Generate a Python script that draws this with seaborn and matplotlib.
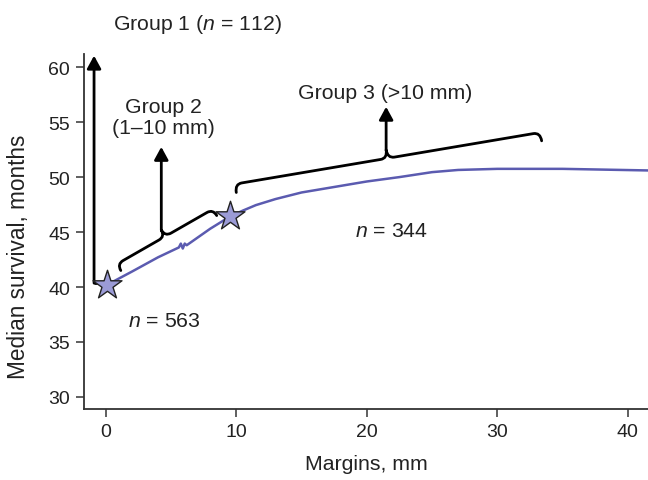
import numpy as np
import pandas as pd
import matplotlib
matplotlib.use("Agg")
import matplotlib.pyplot as plt
import seaborn as sns
from matplotlib.path import Path
from matplotlib.patches import PathPatch
from matplotlib.transforms import IdentityTransform

# ---- data ----
margin_mm = [0.1, 2, 4, 5.6, 5.75, 5.9, 6.05, 6.2, 8, 9.5, 10.5, 11.5, 13, 15, 17.5,
             20, 22.5, 25, 27, 30, 35, 41.8]
median_survival = [40.2, 41.4, 42.7, 43.6, 43.95, 43.5, 43.95, 43.8, 45.3, 46.4, 46.95,
                   47.45, 48.0, 48.6, 49.1, 49.6, 50.0, 50.45, 50.65, 50.75, 50.75, 50.6]
star_x = [0.1, 9.5]
star_y = [40.2, 46.5]
x_ticks = [0, 10, 20, 30, 40]
y_ticks = [30, 35, 40, 45, 50, 55, 60]

group1_label = "Group 1 ($\\it{n}$ = 112)"
group2_label = "Group 2\n(1\u201310 mm)"
group3_label = "Group 3 (>10 mm)"
n_labels = ["$\\it{n}$ = 563", "$\\it{n}$ = 344"]

# annotation anchors (data coords)
g1_arrow = [(-0.9, 40.35), (-0.9, 61.05)]
g2_brace = [(1.15, 41.5), (8.5, 46.5)]
g3_brace = [(10.0, 48.6), (33.4, 53.3)]
g2_arrow_top = 52.75
g3_arrow_top = 56.4

sns.set_style("ticks")
plt.rcParams['font.family'] = ['Liberation Sans', 'DejaVu Sans']
plt.rcParams['mathtext.fontset'] = 'custom'
plt.rcParams['mathtext.it'] = 'Liberation Sans:italic'
plt.rcParams['mathtext.rm'] = 'Liberation Sans'

TXT = 15.3
fig = plt.figure(figsize=(6.48, 4.81), dpi=100)
ax = fig.add_axes([84 / 648, 1 - 410 / 481, 1 - 84 / 648, (410 - 55) / 481])

df = pd.DataFrame({"margin": margin_mm, "survival": median_survival})
sns.lineplot(data=df, x="margin", y="survival", ax=ax, color="#5b5bb0", lw=1.8,
             sort=False, zorder=3)

ax.set_xlim(-1.67, 41.55)
ax.set_ylim(28.9, 61.2)
ax.set_xticks(x_ticks)
ax.set_yticks(y_ticks)
ax.tick_params(axis="both", labelsize=14, length=6, width=1.2, color="#444444",
               labelcolor="#222222", pad=4)
for s in ["top", "right"]:
    ax.spines[s].set_visible(False)
for s in ["left", "bottom"]:
    ax.spines[s].set_linewidth(1.3)
    ax.spines[s].set_color("#333333")
ax.set_xlabel("Margins, mm", fontsize=TXT, color="#222222", labelpad=10)
ax.set_ylabel("Median survival, months", fontsize=16.3, color="#222222")
ax.yaxis.set_label_coords((30 - 84) / 564, (410 - 257) / 355)

fig.canvas.draw()

def brace(p0, p1, h, r, lw=2.0):
    """Curly brace between two data points, drawn in pixel space, cusp upward."""
    a = ax.transData.transform(p0)
    b = ax.transData.transform(p1)
    d = b - a
    L = np.hypot(*d)
    u = d / L
    n = np.array([-u[1], u[0]])
    if n[1] < 0:
        n = -n
    def P(s, t):
        return a + u * s + n * t
    m = L / 2
    verts = [P(0, 0), P(0, h / 2), P(r, h / 2),
             P(m - r, h / 2),
             P(m, h / 2), P(m, h),
             P(m, h / 2), P(m + r, h / 2),
             P(L - r, h / 2),
             P(L, h / 2), P(L, 0)]
    codes = [Path.MOVETO, Path.CURVE3, Path.CURVE3, Path.LINETO,
             Path.CURVE3, Path.CURVE3, Path.CURVE3, Path.CURVE3,
             Path.LINETO, Path.CURVE3, Path.CURVE3]
    patch = PathPatch(Path(verts, codes), fill=False, lw=lw, color="black",
                      transform=IdentityTransform(), capstyle="round", joinstyle="round",
                      zorder=4)
    ax.add_artist(patch)
    cusp = ax.transData.inverted().transform(P(m, h))
    return cusp

def arrow(x, y0, y1):
    ax.annotate("", xy=(x, y1), xytext=(x, y0), annotation_clip=False,
                arrowprops=dict(arrowstyle="-|>,head_length=0.55,head_width=0.3",
                                lw=2.0, color="black", shrinkA=0, shrinkB=0,
                                mutation_scale=14), zorder=4)

# Group 1
arrow(g1_arrow[0][0], g1_arrow[0][1], g1_arrow[1][1])
ax.plot([g1_arrow[0][0], -0.2], [g1_arrow[0][1], g1_arrow[0][1]], color="black",
        lw=2.0, zorder=4, solid_capstyle="butt")
ax.text(7.0, 64.0, group1_label, fontsize=TXT, ha="center", va="center",
        clip_on=False, color="#222222")

# Group 2
c2 = brace(g2_brace[0], g2_brace[1], h=15, r=7)
arrow(c2[0], c2[1], g2_arrow_top)
ax.text(4.38, 55.5, group2_label, fontsize=TXT, ha="center", va="center",
        color="#222222", linespacing=1.15)

# Group 3
c3 = brace(g3_brace[0], g3_brace[1], h=17, r=7)
arrow(c3[0], c3[1], g3_arrow_top)
ax.text(21.4, 57.7, group3_label, fontsize=TXT, ha="center", va="center",
        color="#222222")

# stars
sns.scatterplot(x=star_x, y=star_y, ax=ax, marker="*", s=480, color="#9b9bd6",
                edgecolor="#222222", linewidth=1.0, zorder=5, legend=False)

# n labels
ax.text(4.5, 36.95, n_labels[0], fontsize=TXT, ha="center", va="center", color="#222222")
ax.text(21.9, 45.15, n_labels[1], fontsize=TXT, ha="center", va="center", color="#222222")

fig.savefig("out.png", dpi=100)
